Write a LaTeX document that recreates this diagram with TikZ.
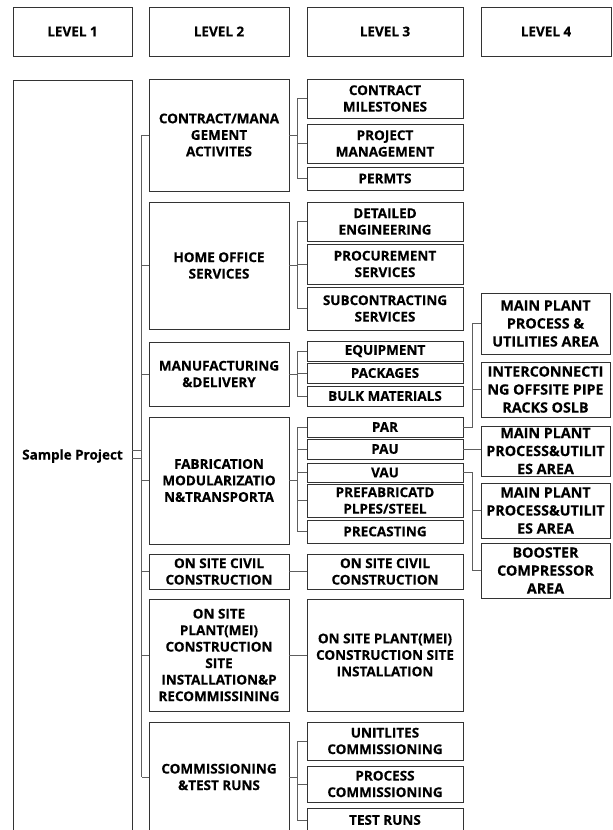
\documentclass[tikz,border=0pt]{standalone}
\usepackage{fontspec}
\setmainfont{Open Sans}
\newfontfamily\wbsfont[BoldFeatures={FakeBold=0.35}]{Open Sans}
\definecolor{boxline}{HTML}{333333}
\definecolor{linkline}{HTML}{5E5E5E}
% box with given corners (x1,y1,x2,y2), 1 unit = 1pt, y grows downward
\newcommand\wbs[7][]{\node[box, #1, minimum width={#5-#3}, minimum height={#6-#4}] (#2) at ({(#3+#5)/2},{(#4+#6)/2}) {#7};}
% parent on the left, children stacked on the right joined by a bus
\newcommand\fanout[4]{%
  \draw[link] (#1.east) -- ++(9,0);
  \draw[link] (#2.west) -- ++(-9,0) |- (#3.west);
  \foreach \m in {#4} \draw[link] (\m.west) -- ++(-9,0);}
\begin{document}
\begin{tikzpicture}[x=1pt,y=-1pt,
  box/.style={draw=boxline, line width=0.8pt, fill=white, inner sep=0pt,
    align=center, text=black, font=\wbsfont\bfseries\fontsize{13.5}{16.5}\selectfont},
  leaf/.style={font=\wbsfont\bfseries\fontsize{14.3}{18}\selectfont},
  link/.style={draw=linkline, line width=0.8pt}]
\useasboundingbox (0,0) rectangle (613,830);
\clip (0,0) rectangle (613,830);
\fill[white] (0,0) rectangle (613,830);

% column headers
\wbs{hd1}{13}{7}{132}{56}{LEVEL 1}
\wbs{hd2}{149}{7}{289}{56}{LEVEL 2}
\wbs{hd3}{307}{7}{463}{56}{LEVEL 3}
\wbs{hd4}{481}{7}{611}{56}{LEVEL 4}

% level 1
\wbs{root}{13}{80}{132}{832}{Sample Project}

% level 2
\wbs{a}{149}{79}{289}{191}{CONTRACT/MANA\\GEMENT\\ACTIVITES}
\wbs{b}{149}{202}{289}{329}{HOME OFFICE\\SERVICES}
\wbs{c}{149}{342}{289}{406}{MANUFACTURING\\\&DELIVERY}
\wbs{d}{149}{417}{289}{544}{FABRICATION\\MODULARIZATIO\\N\&TRANSPORTA}
\wbs{e}{149}{554}{289}{589}{ON SITE CIVIL\\CONSTRUCTION}
\wbs{f}{149}{599}{289}{711}{ON SITE\\PLANT(MEI)\\CONSTRUCTION\\SITE\\INSTALLATION\&P\\RECOMMISSINING}
\wbs{g}{149}{722}{289}{832}{COMMISSIONING\\\&TEST RUNS}

% level 3
\wbs{c1}{307}{79}{463}{118}{CONTRACT\\MILESTONES}
\wbs{c2}{307}{124}{463}{163}{PROJECT\\MANAGEMENT}
\wbs{c3}{307}{167}{463}{190}{PERMTS}
\wbs{h1}{307}{202}{463}{241}{DETAILED\\ENGINEERING}
\wbs{h2}{307}{244}{463}{284}{PROCUREMENT\\SERVICES}
\wbs{h3}{307}{287}{463}{330}{SUBCONTRACTING\\SERVICES}
\wbs{m1}{307}{341}{463}{361}{EQUIPMENT}
\wbs{m2}{307}{363}{463}{383}{PACKAGES}
\wbs{m3}{307}{386}{463}{406}{BULK MATERIALS}
\wbs{par}{307}{417}{463}{437}{PAR}
\wbs{pau}{307}{439}{463}{459}{PAU}
\wbs{vau}{307}{463}{463}{482}{VAU}
\wbs{pre}{307}{484}{463}{517}{PREFABRICATD\\PLPES/STEEL}
\wbs{prc}{307}{520}{463}{543}{PRECASTING}
\wbs{civ}{307}{554}{463}{589}{ON SITE CIVIL\\CONSTRUCTION}
\wbs{mei}{307}{599}{463}{711}{ON SITE PLANT(MEI)\\CONSTRUCTION SITE\\INSTALLATION}
\wbs{u1}{307}{722}{463}{760}{UNITLITES\\COMMISSIONING}
\wbs{u2}{307}{766}{463}{802}{PROCESS\\COMMISSIONING}
\wbs{u3}{307}{808}{463}{832}{TEST RUNS}

% level 4
\wbs[leaf]{q1}{481}{293}{610}{354}{MAIN PLANT\\PROCESS \&\\UTILITIES AREA}
\wbs[leaf]{q2}{481}{362}{610}{417}{INTERCONNECTI\\NG OFFSITE PIPE\\RACKS OSLB}
\wbs[leaf]{q3}{481}{426}{610}{476}{MAIN PLANT\\PROCESS\&UTILIT\\ES AREA}
\wbs[leaf]{q4}{481}{483}{610}{538}{MAIN PLANT\\PROCESS\&UTILIT\\ES AREA}
\wbs[leaf]{q5}{481}{543}{610}{598}{BOOSTER\\COMPRESSOR\\AREA}

% level 1 -> level 2
\draw[link] ([yshift=-2pt]root.east) -- ++(10,0);
\draw[link] ([yshift=6pt]root.east) -- ++(10,0);
\draw[link] ([xshift=-7pt]a.west) -- ([xshift=-7pt]g.west);
\foreach \n in {a,b,c,d,e,f,g} \draw[link] (\n.west) -- ++(-7,0);

% level 2 -> level 3
\fanout{a}{c1}{c3}{c2}
\fanout{b}{h1}{h3}{h2}
\fanout{c}{m1}{m3}{m2}
\fanout{d}{par}{prc}{pau,vau,pre}
\fanout{g}{u1}{u3}{u2}
\draw[link] (e.east) -- (civ.west);
\draw[link] (f.east) -- (mei.west);

% level 3 -> level 4
\draw[link] (par.east) -| ([xshift=-8pt]q1.west) -- (q1.west);
\draw[link] (q2.west) -- ++(-8,0);
\draw[link] (pau.east) -- (pau.east -| q3.west);
\draw[link] (vau.east) -| ([xshift=-8pt]q5.west) -- (q5.west);
\draw[link] (q4.west) -- ++(-8,0);
\end{tikzpicture}
\end{document}
